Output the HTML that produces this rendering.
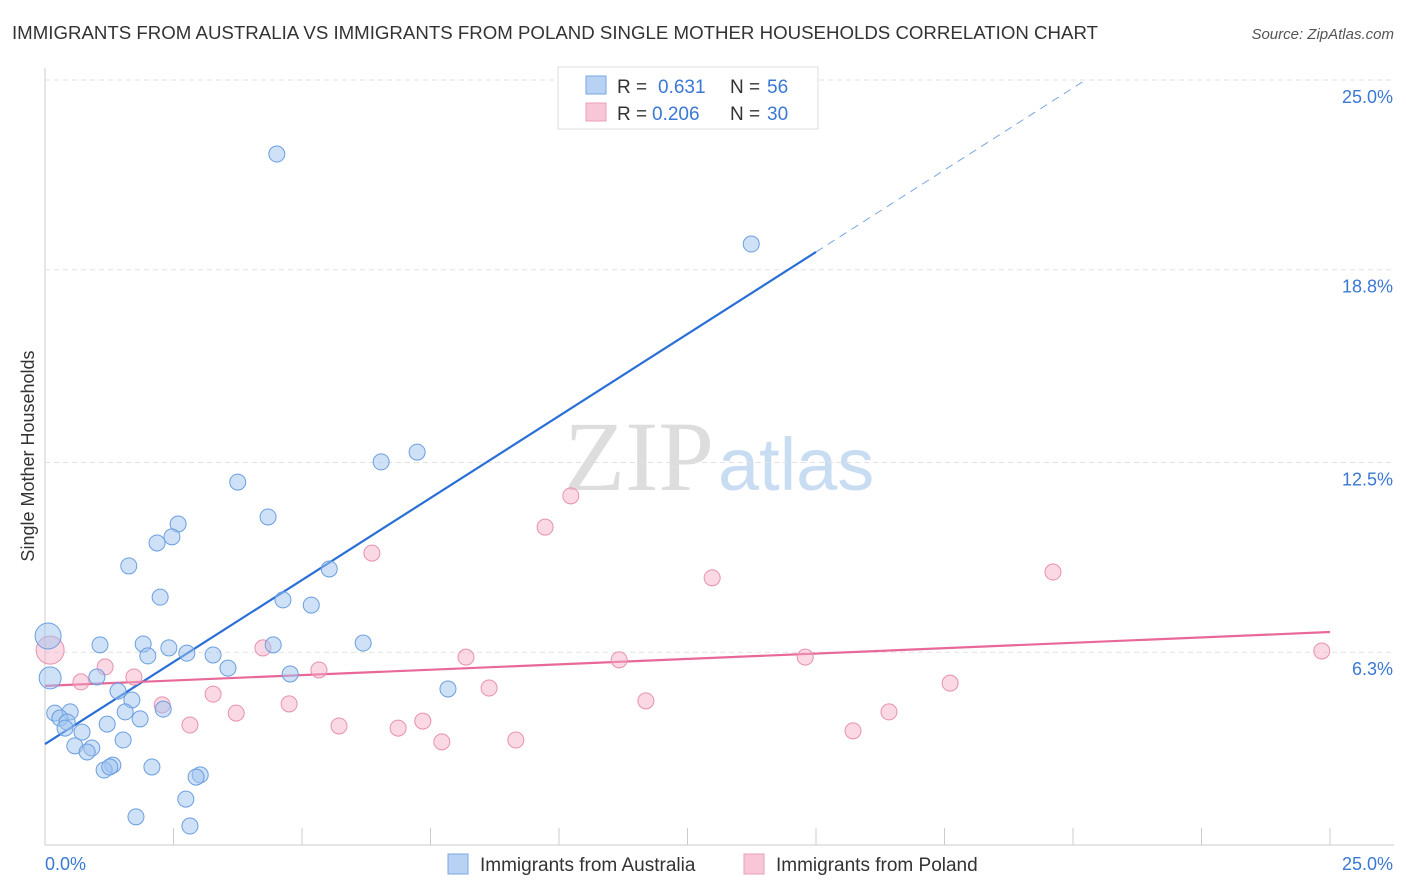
<!DOCTYPE html>
<html><head><meta charset="utf-8">
<style>
body{margin:0;background:#fff;font-family:"Liberation Sans",sans-serif;}
svg{display:block}
</style></head>
<body>
<svg id="chart" width="1406" height="892">
<text x="12" y="39" font-size="18" fill="#333" textLength="1086" lengthAdjust="spacingAndGlyphs">IMMIGRANTS FROM AUSTRALIA VS IMMIGRANTS FROM POLAND SINGLE MOTHER HOUSEHOLDS CORRELATION CHART</text>
<text x="1394" y="39" font-size="15" fill="#555" font-style="italic" text-anchor="end">Source: ZipAtlas.com</text>
<text x="714" y="490" font-size="100" font-family="Liberation Serif,serif" fill="#ddd" text-anchor="end">ZIP</text>
<text x="718" y="490" font-size="74" fill="#c8dcf2">atlas</text>
<text transform="translate(34,456) rotate(-90)" font-size="18" fill="#333" text-anchor="middle">Single Mother Households</text>
<g id="grid"></g><g id="lines"></g><g id="dots"></g>
<g>
<rect x="558" y="67" width="260" height="62" fill="#fff" stroke="#ddd"/>
<rect x="586" y="76" width="20" height="18" fill="#b8d2f3" stroke="#7aa7e0"/>
<text x="617" y="93" font-size="19" fill="#333">R = </text><text x="658" y="93" font-size="19" fill="#3a78d4">0.631</text>
<text x="730" y="93" font-size="19" fill="#333">N = </text><text x="767" y="93" font-size="19" fill="#3a78d4">56</text>
<rect x="586" y="103" width="20" height="18" fill="#f8c6d6" stroke="#e8a0b8"/>
<text x="617" y="120" font-size="19" fill="#333">R = </text><text x="652" y="120" font-size="19" fill="#3a78d4">0.206</text>
<text x="730" y="120" font-size="19" fill="#333">N = </text><text x="767" y="120" font-size="19" fill="#3a78d4">30</text>
</g>
<g>
<rect x="448" y="854" width="20" height="20" fill="#b8d2f3" stroke="#7aa7e0"/>
<text x="480" y="871" font-size="19" fill="#333">Immigrants from Australia</text>
<rect x="744" y="854" width="20" height="20" fill="#f8c6d6" stroke="#e8a0b8"/>
<text x="776" y="871" font-size="19" fill="#333">Immigrants from Poland</text>
</g>
</svg>
<script>
const yTicks=[25.0,18.8,12.5,6.3];
const xTickLabels=["0.0%","25.0%"];
const blueX=[4.51,13.74,7.24,6.54,3.75,4.34,2.59,2.47,2.18,1.63,5.53,2.24,4.63,5.18,1.07,1.91,2.41,4.44,6.19,2.00,2.76,3.27,3.56,4.77,1.01,1.42,1.69,7.84,0.19,0.49,0.29,0.43,1.56,2.30,1.85,1.21,0.39,0.72,1.52,0.58,0.91,0.82,1.32,1.15,1.26,2.08,3.02,2.94,2.74,1.77,2.82,0.06,0.10];
const blueY=[22.58,19.64,12.84,12.52,11.86,10.72,10.49,10.07,9.87,9.12,9.02,8.10,8.01,7.84,6.54,6.57,6.44,6.54,6.60,6.18,6.27,6.21,5.78,5.59,5.49,5.03,4.74,5.10,4.31,4.35,4.15,4.02,4.35,4.44,4.12,3.95,3.82,3.69,3.43,3.24,3.17,3.04,2.61,2.45,2.55,2.55,2.29,2.22,1.50,0.92,0.62,6.83,5.46];
const blueR=[8,8,8,8,8,8,8,8,8,8,8,8,8,8,8,8,8,8,8,8,8,8,8,8,8,8,8,8,8,8,8,8,8,8,8,8,8,8,8,8,8,8,8,8,8,8,8,8,8,8,8,13,11];
const pinkX=[0.10,0.70,1.17,1.73,2.28,2.82,3.27,3.72,4.24,4.75,5.33,5.72,6.36,6.87,7.35,7.72,8.19,8.64,9.16,9.73,10.23,11.17,11.69,12.98,14.79,15.72,16.42,17.61,19.61,24.84];
const pinkY=[6.37,5.33,5.82,5.49,4.58,3.92,4.93,4.31,6.44,4.61,5.72,3.89,9.54,3.82,4.05,3.37,6.14,5.13,3.43,10.39,11.41,6.05,4.71,8.73,6.14,3.73,4.35,5.29,8.92,6.34];
const blueTrend=[3.30,1.072];
const pinkTrend=[5.20,0.0704];
const X=v=>45+v*51.4, Y=v=>845-v*30.6;
const NS="http://www.w3.org/2000/svg";
function mk(t,a,p){const e=document.createElementNS(NS,t);for(const k in a)e.setAttribute(k,a[k]);p.appendChild(e);return e;}
const grid=document.getElementById('grid'),lines=document.getElementById('lines'),dots=document.getElementById('dots');
mk('line',{x1:45,y1:68,x2:45,y2:845,stroke:'#ccc'},grid);
mk('line',{x1:45,y1:845,x2:1394,y2:845,stroke:'#ccc'},grid);
for(let i=0;i<=10;i++){const l=mk('line',{x1:X(i*2.5),y1:828,x2:X(i*2.5),y2:845,stroke:'#ccc'},grid);

}
yTicks.forEach(t=>{const g=mk('line',{x1:45,y1:Y(t),x2:1394,y2:Y(t),stroke:'#e2e2e2','stroke-dasharray':'5,4'},grid);


const tx=mk('text',{x:1393,y:Y(t)+23,'font-size':18,fill:'#3a78d4','text-anchor':'end'},grid);tx.textContent=t.toFixed(1)+'%';

});
xTickLabels.forEach((s,i)=>{const tx=mk('text',{x:i?1393:45,y:870,'font-size':18,fill:'#3a78d4','text-anchor':i?'end':'start'},grid);tx.textContent=s;

});
pinkX.forEach((x,i)=>{const c=mk('circle',{cx:X(x),cy:Y(pinkY[i]),r:i==0?14:8,fill:'rgba(245,170,195,0.45)',stroke:'#e890ad','stroke-width':1},dots);

});
blueX.forEach((x,i)=>{const c=mk('circle',{cx:X(x),cy:Y(blueY[i]),r:blueR[i],fill:'rgba(160,195,240,0.5)',stroke:'#6a9ee0','stroke-width':1},dots);

});
const bEnd=15, bDash=(25-blueTrend[0])/blueTrend[1];
const b1=mk('line',{x1:X(0),y1:Y(blueTrend[0]),x2:X(bEnd),y2:Y(blueTrend[0]+blueTrend[1]*bEnd),stroke:'#2a6fd6','stroke-width':2.2},lines);


const b2=mk('line',{x1:X(bEnd),y1:Y(blueTrend[0]+blueTrend[1]*bEnd),x2:X(bDash),y2:Y(25),stroke:'#7aa7e0','stroke-width':1,'stroke-dasharray':'8,6'},lines);


const p1=mk('line',{x1:X(0),y1:Y(pinkTrend[0]),x2:X(25),y2:Y(pinkTrend[0]+pinkTrend[1]*25),stroke:'#e8689a','stroke-width':2.2},lines);


</script>
</body></html>
